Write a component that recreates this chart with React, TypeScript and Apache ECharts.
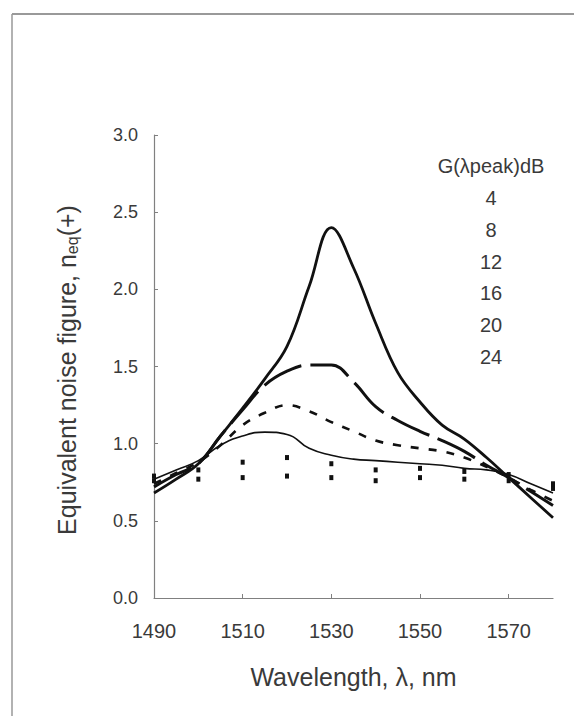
import React, { useEffect, useRef } from "react";
import * as echarts from "echarts";

// Wavelength grid (nm) for the continuous curves
const wavelengths = [1490, 1495, 1500, 1505, 1510, 1515, 1520, 1525, 1530, 1535, 1540, 1545, 1550, 1555, 1560, 1565, 1570, 1575, 1580];
// Wavelength grid (nm) for the dotted curves
const wavelengthsDotted = [1490, 1500, 1510, 1520, 1530, 1540, 1550, 1560, 1570, 1580];

// Equivalent noise figure n_eq(+) for each peak gain
const nf24 = [0.68, 0.77, 0.87, 1.05, 1.23, 1.42, 1.63, 2.02, 2.4, 2.14, 1.78, 1.46, 1.27, 1.12, 1.03, 0.91, 0.78, 0.65, 0.52];
const nf20 = [0.72, 0.8, 0.87, 1.05, 1.22, 1.38, 1.47, 1.51, 1.51, 1.4, 1.24, 1.15, 1.08, 1.02, 0.95, 0.86, 0.78, 0.69, 0.6];
const nf16 = [0.74, 0.81, 0.88, 0.99, 1.12, 1.2, 1.25, 1.21, 1.14, 1.08, 1.02, 0.99, 0.97, 0.95, 0.91, 0.85, 0.78, 0.7, 0.63];
const nf12 = [0.77, 0.83, 0.89, 0.99, 1.05, 1.075, 1.06, 0.97, 0.925, 0.9, 0.89, 0.88, 0.87, 0.86, 0.84, 0.83, 0.8, 0.74, 0.68];
const nf8 = [0.79, 0.83, 0.88, 0.91, 0.87, 0.83, 0.84, 0.82, 0.8, 0.74];
const nf4 = [0.76, 0.77, 0.78, 0.79, 0.78, 0.76, 0.78, 0.77, 0.76, 0.71];

// Legend entries
const legendTitle = "G(λpeak)dB";
const gainLabels = ["4", "8", "12", "16", "20", "24"];

// Axis ticks
const xMin = 1490;
const xMax = 1580;
const xInterval = 20;
const yMin = 0;
const yMax = 3;
const yInterval = 0.5;

const pairs = (xs: number[], ys: number[]) => xs.map((x, i) => [x, ys[i]]);

export default function App() {
  const ref = useRef<HTMLDivElement>(null);

  useEffect(() => {
    if (!ref.current) return;
    const chart = echarts.init(ref.current, null, { renderer: "svg" });
    const font = "Liberation Sans, Arial, sans-serif";
    const ink = "#111";
    const textGrey = "#3a3a3a";
    const axisGrey = "#808080";

    const legendGraphics: any[] = [
      {
        type: "text",
        x: 491,
        y: 166,
        style: { text: legendTitle, font: `20px ${font}`, fill: textGrey, textAlign: "center", textVerticalAlign: "middle" },
      },
      ...gainLabels.map((g, i) => ({
        type: "text",
        x: 491,
        y: 198 + i * 31.8,
        style: { text: g, font: `20px ${font}`, fill: textGrey, textAlign: "center", textVerticalAlign: "middle" },
      })),
    ];

    const yTitle = {
      type: "text",
      x: 67,
      y: 370,
      rotation: Math.PI / 2,
      style: {
        text: "Equivalent noise figure, n{sub|eq}(+)",
        font: `25px ${font}`,
        fill: textGrey,
        textAlign: "center",
        textVerticalAlign: "middle",
        rich: {
          sub: { fontFamily: font, fontSize: 16, fill: textGrey, padding: [10, 0, 0, 0] },
        },
      },
    };

    const option: any = {
      animation: false,
      backgroundColor: "#fff",
      grid: { left: 154, right: 21, top: 135, bottom: 118, containLabel: false },
      xAxis: {
        type: "value",
        min: xMin,
        max: xMax,
        interval: xInterval,
        name: "Wavelength, λ, nm",
        nameLocation: "middle",
        nameGap: 66,
        nameTextStyle: { fontFamily: font, fontSize: 25, color: textGrey },
        axisLine: { lineStyle: { color: axisGrey, width: 1.2 } },
        axisTick: { inside: true, length: 4, lineStyle: { color: axisGrey } },
        axisLabel: {
          fontFamily: font,
          fontSize: 20,
          color: textGrey,
          margin: 23,
          showMaxLabel: false,
          formatter: (v: number) => String(v),
        },
        splitLine: { show: false },
      },
      yAxis: {
        type: "value",
        min: yMin,
        max: yMax,
        interval: yInterval,
        axisLine: { show: true, lineStyle: { color: axisGrey, width: 1.2 } },
        axisTick: { show: true, inside: true, length: 4, lineStyle: { color: axisGrey } },
        axisLabel: {
          fontFamily: font,
          fontSize: 18,
          color: textGrey,
          margin: 16,
          formatter: (v: number) => v.toFixed(1),
        },
        splitLine: { show: false },
      },
      graphic: [
        { type: "line", shape: { x1: 12, y1: 14, x2: 574, y2: 14 }, style: { stroke: "#777", lineWidth: 1.5 } },
        { type: "line", shape: { x1: 12, y1: 14, x2: 12, y2: 716 }, style: { stroke: "#999", lineWidth: 1.5 } },
        yTitle,
        ...legendGraphics,
      ],
      series: [
        {
          name: "4",
          type: "line",
          data: pairs(wavelengthsDotted, nf4),
          symbol: "rect",
          symbolSize: [4, 5],
          showSymbol: true,
          itemStyle: { color: ink },
          lineStyle: { width: 0, opacity: 0 },
        },
        {
          name: "8",
          type: "line",
          data: pairs(wavelengthsDotted, nf8),
          symbol: "rect",
          symbolSize: [4, 5],
          showSymbol: true,
          itemStyle: { color: ink },
          lineStyle: { width: 0, opacity: 0 },
        },
        {
          name: "12",
          type: "line",
          data: pairs(wavelengths, nf12),
          smooth: 0.5,
          showSymbol: false,
          lineStyle: { color: ink, width: 1.6 },
        },
        {
          name: "16",
          type: "line",
          data: pairs(wavelengths, nf16),
          smooth: 0.4,
          showSymbol: false,
          lineStyle: { color: ink, width: 2.6, type: [8, 10] },
        },
        {
          name: "20",
          type: "line",
          data: pairs(wavelengths, nf20),
          smooth: 0.4,
          showSymbol: false,
          lineStyle: { color: ink, width: 3, type: [42, 9] },
        },
        {
          name: "24",
          type: "line",
          data: pairs(wavelengths, nf24),
          smooth: 0.4,
          showSymbol: false,
          lineStyle: { color: ink, width: 2.8 },
        },
      ],
    };
    chart.setOption(option);
    return () => chart.dispose();
  }, []);

  return (
    <div
      ref={ref}
      style={{ position: "absolute", left: 0, top: 0, width: 574, height: 716, background: "#fff" }}
    />
  );
}
